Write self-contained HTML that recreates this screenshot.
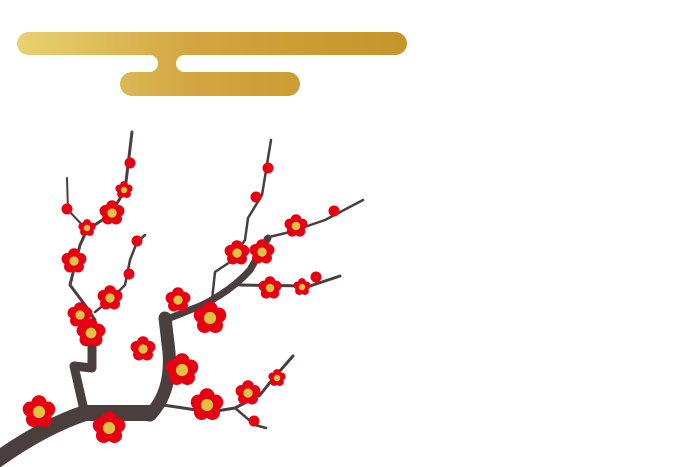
<!DOCTYPE html>
<html><head><meta charset="utf-8"><style>html,body{margin:0;padding:0;background:#fff;width:673px;height:467px;overflow:hidden}</style></head>
<body>
<svg width="673" height="467" viewBox="0 0 673 467" xmlns="http://www.w3.org/2000/svg">
<defs>
<linearGradient id="g" x1="17" y1="0" x2="407" y2="0" gradientUnits="userSpaceOnUse">
<stop offset="0" stop-color="#e8d270"/><stop offset="0.45" stop-color="#d3a540"/><stop offset="1" stop-color="#c6952a"/>
</linearGradient>
<symbol id="f" viewBox="-12 -12 24 24" overflow="visible">
<g fill="#e60012">
<circle cx="0" cy="-6.4" r="5.4"/><circle cx="6.1" cy="-2" r="5.4"/><circle cx="3.8" cy="5.2" r="5.4"/><circle cx="-3.8" cy="5.2" r="5.4"/><circle cx="-6.1" cy="-2" r="5.4"/><circle r="5.5"/>
</g>
<circle r="4.3" fill="#e0c440"/>
</symbol>
<symbol id="b" viewBox="-6 -6 12 12" overflow="visible"><circle r="5.5" fill="#e60012"/></symbol>
</defs>
<rect x="140" y="45" width="55" height="36" fill="url(#g)"/>
<rect x="0" y="55" width="158" height="17" rx="8.5" fill="#fff"/>
<rect x="176" y="55" width="260" height="17" rx="8.5" fill="#fff"/>
<rect x="17" y="32" width="390" height="23" rx="11.5" fill="url(#g)"/>
<rect x="120" y="72" width="180" height="24" rx="12" fill="url(#g)"/>
<g fill="none" stroke="#4a3f3c" stroke-linecap="round" stroke-linejoin="round">
<path d="M-10 465 Q40 428 85 413 L150 413" stroke-width="16"/>
<path d="M150 415 Q172 392 169 352 L165 318" stroke-width="13"/>
<path d="M84 410 L74 366 L92 368 L92 340" stroke-width="9"/>
<path d="M165 320 L200 306 Q230 292 250 270 L268 238" stroke-width="7"/>
<path d="M240 285 L310 286 L340 276" stroke-width="3"/>
<path d="M212 300 L215 272 L230 262 L245 240 L248 218 L262 195 L271 140" stroke-width="2.5"/>
<path d="M265 238 L290 232 L325 220 L363 200" stroke-width="2.5"/>
<path d="M92 340 L95 320 L85 305 L70 285 L75 265 L80 245 L87 230 L110 215 L125 190 L132 132" stroke-width="3"/>
<path d="M87 230 L68 210 L67 178" stroke-width="2"/>
<path d="M95 312 L110 300 L125 285 L130 260 L137 242 L145 235" stroke-width="2.5"/>
<path d="M163 405 L210 412 L235 408 L260 395 L272 380 L293 356" stroke-width="3"/>
<path d="M235 408 L255 425 L266 428" stroke-width="2.5"/>
</g>
<g>
<use href="#f" x="22" y="395" width="34" height="34"/>
<use href="#f" x="92" y="411" width="34" height="34"/>
<use href="#f" x="165" y="353" width="34" height="34"/>
<use href="#f" x="190" y="388" width="34" height="34"/>
<use href="#f" x="235" y="380" width="26" height="26"/>
<use href="#f" x="268" y="369" width="18" height="18"/>
<use href="#b" x="248" y="415" width="12" height="12"/>
<use href="#f" x="130" y="336" width="26" height="26"/>
<use href="#f" x="165" y="287" width="26" height="26"/>
<use href="#f" x="193" y="301" width="34" height="34"/>
<use href="#f" x="76" y="318" width="30" height="30"/>
<use href="#f" x="67" y="302" width="26" height="26"/>
<use href="#f" x="97" y="285" width="26" height="26"/>
<use href="#f" x="61" y="248" width="26" height="26"/>
<use href="#b" x="123" y="268" width="12" height="12"/>
<use href="#b" x="131" y="235" width="12" height="12"/>
<use href="#f" x="78" y="219" width="18" height="18"/>
<use href="#f" x="99" y="200" width="26" height="26"/>
<use href="#f" x="115" y="181" width="18" height="18"/>
<use href="#b" x="124" y="157" width="12" height="12"/>
<use href="#b" x="61" y="203" width="12" height="12"/>
<use href="#f" x="224" y="240" width="26" height="26"/>
<use href="#f" x="249" y="239" width="26" height="26"/>
<use href="#f" x="258" y="276" width="24" height="24"/>
<use href="#f" x="293" y="278" width="18" height="18"/>
<use href="#b" x="310" y="271" width="12" height="12"/>
<use href="#f" x="284" y="214" width="24" height="24"/>
<use href="#b" x="328" y="205" width="12" height="12"/>
<use href="#b" x="250" y="191" width="12" height="12"/>
<use href="#b" x="262" y="162" width="12" height="12"/>
</g>
</svg>
</body></html>
